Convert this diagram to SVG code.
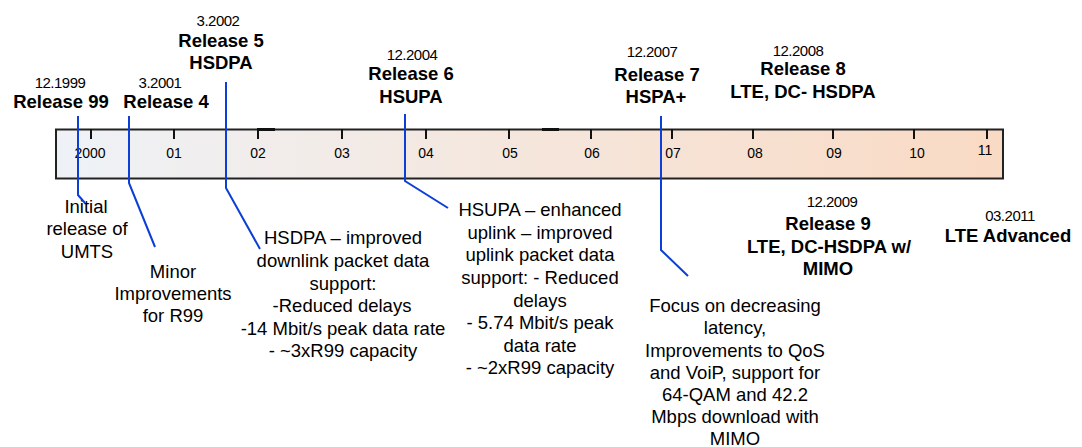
<svg xmlns="http://www.w3.org/2000/svg" width="1082" height="447" viewBox="0 0 1082 447">
  <defs>
    <linearGradient id="barFill" x1="0" y1="0" x2="1" y2="0">
      <stop offset="0" stop-color="#eef2f7"/>
      <stop offset="0.5" stop-color="#f5e6dc"/>
      <stop offset="1" stop-color="#f9dac4"/>
    </linearGradient>
  </defs>
  <style>
    text { font-family: "Liberation Sans", Arial, sans-serif; fill: #000; text-anchor: middle; }
    .date { font-size: 15px; letter-spacing: -0.5px; }
    .rel { font-size: 18.5px; font-weight: bold; }
    .note { font-size: 18.5px; }
    .yr { font-size: 14px; }
    .tick { stroke: #111; stroke-width: 2; }
    .lead { fill: none; stroke: #0b3fd6; stroke-width: 2; }
  </style>

  <!-- timeline bar with year ticks -->
  <g id="timeline">
    <rect x="56" y="129.5" width="947" height="49" fill="url(#barFill)" stroke="#222" stroke-width="2"/>
    <line x1="257" y1="129.5" x2="275" y2="129.5" stroke="#111" stroke-width="3"/>
    <line x1="542" y1="129.5" x2="559" y2="129.5" stroke="#111" stroke-width="3"/>
    <line class="tick" x1="91" y1="129" x2="91" y2="139"/>
    <line class="tick" x1="174" y1="129" x2="174" y2="139"/>
    <line class="tick" x1="258" y1="129" x2="258" y2="139"/>
    <line class="tick" x1="342" y1="129" x2="342" y2="139"/>
    <line class="tick" x1="426" y1="129" x2="426" y2="139"/>
    <line class="tick" x1="509" y1="129" x2="509" y2="139"/>
    <line class="tick" x1="591" y1="129" x2="591" y2="139"/>
    <line class="tick" x1="672" y1="129" x2="672" y2="139"/>
    <line class="tick" x1="753" y1="129" x2="753" y2="139"/>
    <line class="tick" x1="833" y1="129" x2="833" y2="139"/>
    <line class="tick" x1="914" y1="129" x2="914" y2="139"/>
    <line class="tick" x1="987" y1="129" x2="987" y2="139"/>
    <text class="yr" x="90" y="158">2000</text>
    <text class="yr" x="174" y="158">01</text>
    <text class="yr" x="258" y="158">02</text>
    <text class="yr" x="342" y="158">03</text>
    <text class="yr" x="426" y="158">04</text>
    <text class="yr" x="510" y="158">05</text>
    <text class="yr" x="592" y="158">06</text>
    <text class="yr" x="673" y="158">07</text>
    <text class="yr" x="755" y="158">08</text>
    <text class="yr" x="834" y="158">09</text>
    <text class="yr" x="917" y="158">10</text>
    <text class="yr" x="985" y="155">11</text>
  </g>

  <!-- release headings -->
  <g id="r99">
    <text class="date" x="60" y="88">12.1999</text>
    <text class="rel" x="61" y="108">Release 99</text>
  </g>
  <g id="r4">
    <text class="date" x="160" y="88">3.2001</text>
    <text class="rel" x="166" y="108">Release 4</text>
  </g>
  <g id="r5">
    <text class="date" x="218" y="26">3.2002</text>
    <text class="rel" x="221" y="47">Release 5</text>
    <text class="rel" x="221" y="69">HSDPA</text>
  </g>
  <g id="r6">
    <text class="date" x="412" y="60">12.2004</text>
    <text class="rel" x="411" y="80">Release 6</text>
    <text class="rel" x="411" y="103">HSUPA</text>
  </g>
  <g id="r7">
    <text class="date" x="652" y="57">12.2007</text>
    <text class="rel" x="657" y="81">Release 7</text>
    <text class="rel" x="656" y="103">HSPA+</text>
  </g>
  <g id="r8">
    <text class="date" x="798" y="56">12.2008</text>
    <text class="rel" x="803" y="75">Release 8</text>
    <text class="rel" x="803" y="98">LTE, DC- HSDPA</text>
  </g>
  <g id="r9">
    <text class="date" x="832" y="207">12.2009</text>
    <text class="rel" x="828" y="230">Release 9</text>
    <text class="rel" x="829" y="253">LTE, DC-HSDPA w/</text>
    <text class="rel" x="828" y="275">MIMO</text>
  </g>
  <g id="lteA">
    <text class="date" x="1010" y="221">03.2011</text>
    <text class="rel" x="1008" y="242">LTE Advanced</text>
  </g>

  <!-- release notes -->
  <g id="note99">
    <text class="note" x="86" y="213">Initial</text>
    <text class="note" x="87" y="235">release of</text>
    <text class="note" x="87" y="258">UMTS</text>
  </g>
  <g id="note4">
    <text class="note" x="173" y="278">Minor</text>
    <text class="note" x="173" y="300">Improvements</text>
    <text class="note" x="173" y="322">for R99</text>
  </g>
  <g id="note5">
    <text class="note" x="343" y="244">HSDPA – improved</text>
    <text class="note" x="343" y="267">downlink packet data</text>
    <text class="note" x="343" y="290">support:</text>
    <text class="note" x="342" y="312">-Reduced delays</text>
    <text class="note" x="343" y="335">-14 Mbit/s peak data rate</text>
    <text class="note" x="343" y="357">- ~3xR99 capacity</text>
  </g>
  <g id="note6">
    <text class="note" x="540" y="216">HSUPA – enhanced</text>
    <text class="note" x="540" y="239">uplink – improved</text>
    <text class="note" x="540" y="261">uplink packet data</text>
    <text class="note" x="540" y="284">support: - Reduced</text>
    <text class="note" x="540" y="307">delays</text>
    <text class="note" x="540" y="329">- 5.74 Mbit/s peak</text>
    <text class="note" x="540" y="352">data rate</text>
    <text class="note" x="540" y="374">- ~2xR99 capacity</text>
  </g>
  <g id="note7">
    <text class="note" x="735" y="312">Focus on decreasing</text>
    <text class="note" x="735" y="334">latency,</text>
    <text class="note" x="735" y="357">Improvements to QoS</text>
    <text class="note" x="735" y="379">and VoiP, support for</text>
    <text class="note" x="735" y="401">64-QAM and 42.2</text>
    <text class="note" x="735" y="423">Mbps download with</text>
    <text class="note" x="735" y="445">MIMO</text>
  </g>

  <!-- leader lines from headings to notes -->
  <g id="connectors">
    <polyline class="lead" points="78,116 78,195 85,203"/>
    <polyline class="lead" points="129,116 129,183 155,247"/>
    <polyline class="lead" points="226,82 226,188 260,249"/>
    <polyline class="lead" points="405,114 405,181 448,208"/>
    <polyline class="lead" points="661,116 661,250 688,276"/>
  </g>
</svg>
